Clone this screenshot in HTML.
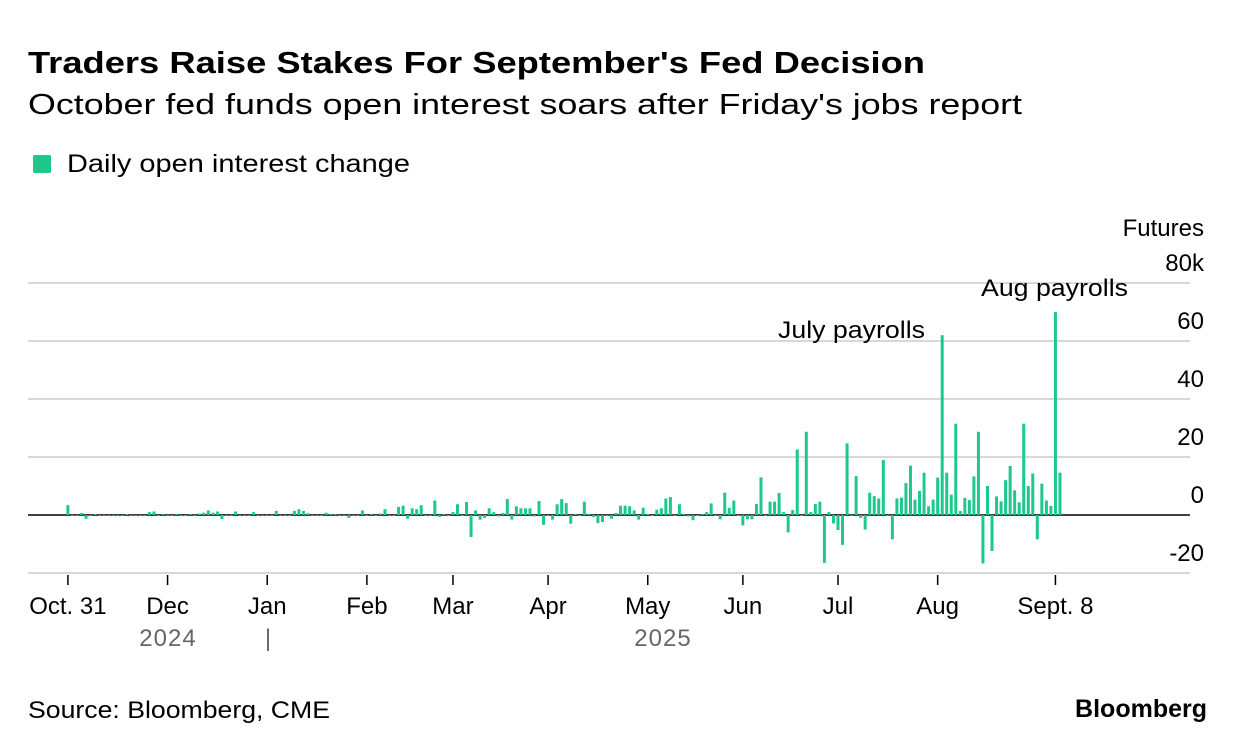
<!DOCTYPE html>
<html><head><meta charset="utf-8"><style>
body{margin:0;background:#fff;font-family:"Liberation Sans",sans-serif;}
svg text{font-family:"Liberation Sans",sans-serif;}
</style></head><body>
<svg width="1236" height="750" xmlns="http://www.w3.org/2000/svg">
<text x="28" y="73" font-size="31" font-weight="bold" fill="#000" textLength="897" lengthAdjust="spacingAndGlyphs">Traders Raise Stakes For September's Fed Decision</text>
<text x="28" y="114" font-size="29" fill="#000" textLength="994" lengthAdjust="spacingAndGlyphs">October fed funds open interest soars after Friday's jobs report</text>
<rect x="33" y="155" width="18" height="18" rx="2" fill="#1ec88a"/>
<text x="67" y="172" font-size="25" fill="#000" textLength="343" lengthAdjust="spacingAndGlyphs">Daily open interest change</text>
<g id="grid"></g>
<g id="bars"></g>
<g id="xaxis"></g>
<text x="1204" y="236" font-size="24" text-anchor="end">Futures</text>
<text x="925" y="338" font-size="24" text-anchor="end" textLength="147" lengthAdjust="spacingAndGlyphs">July payrolls</text>
<text x="1128" y="296" font-size="24" text-anchor="end" textLength="147" lengthAdjust="spacingAndGlyphs">Aug payrolls</text>
<text x="168" y="646" font-size="24" text-anchor="middle" fill="#666" letter-spacing="1">2024</text>
<text x="268" y="646" font-size="24" text-anchor="middle" fill="#666">|</text>
<text x="663" y="646" font-size="24" text-anchor="middle" fill="#666" letter-spacing="1">2025</text>
<text x="28" y="718" font-size="24" fill="#000" textLength="302" lengthAdjust="spacingAndGlyphs">Source: Bloomberg, CME</text>
<text x="1207" y="717" font-size="25" font-weight="bold" text-anchor="end" fill="#000">Bloomberg</text>
</svg>
<script>
const values = [
3.4,0,0,0.7,-1.3,0,0.2,0,0,0,0,0,0,0.2,0,0,0,0,1,1.2,0,0.3,0,0,0.4,0,0,0.2,0,0.5,0.8,1.6,0.8,1.2,-1.4,0,0,1.2,0,0,0,1,0,0,0,0,1.4,0,0,0,1.4,2,1.4,0.6,0,0,0,0.8,0.4,0.2,0,0,-1,0,0,1.6,0,0.2,0,0.5,
2,0,0,2.8,3.2,-1.3,2.3,2,3.4,0,0,5,-0.7,0.2,0,1,3.7,0,4.5,-7.6,1.6,-1.6,-1,2.3,1,-0.5,0.7,5.5,-1.6,3,2.3,2.3,2.3,-0.5,4.8,-3.4,0,-1.6,3.7,5.5,4.1,-3,0.2,0,4.6,0.3,-0.7,-2.8,-2.4,0,-1.3,0.7,3.2,3.2,3,1.6,-1.6,2.5,0.3,0,1.8,2.3,5.7,6.2,0,3.7,0.3,-0.5,-1.8,0,0.3,1,
4,0,-1.5,7.7,2.5,5,0,-3.6,-1.5,-1.5,3.8,13,0,4.6,4.6,7.6,1,-6,1.7,22.6,0,28.7,1,3.8,4.6,-16.5,1,-2.9,-5.2,-10.3,24.7,0,13.4,-1,-5,7.7,6.5,5.7,19,0,-8.4,5.7,
6,11,17,5.3,8.3,14.6,3,5.3,12.9,62,14.6,7,31.5,1.4,5.9,5.2,13.3,28.7,-16.7,10,-12.4,6.4,4.7,12,16.9,8.5,4.4,31.5,10,14.3,-8.4,10.8,5,3.1,70,14.6
];
const yTicks = [-20,0,20,40,60,80];
const yTickLabels = ["-20","0","20","40","60","80k"];
const monthLabels = ["Oct. 31","Dec","Jan","Feb","Mar","Apr","May","Jun","Jul","Aug","Sept. 8"];
const monthIndex = [0,22,44,66,85,106,128,149,170,192,218];
const NS="http://www.w3.org/2000/svg";
const y = v => 515 - v*2.9;
const x = i => 67.9 + i*4.53;
const grid=document.getElementById('grid'), bars=document.getElementById('bars'), xa=document.getElementById('xaxis');
yTicks.forEach((t,k)=>{
  const l=document.createElementNS(NS,'line');
  l.setAttribute('x1',28);l.setAttribute('x2',1190);l.setAttribute('y1',y(t));l.setAttribute('y2',y(t));
  l.setAttribute('stroke',t===0?'#000':'#ccc');l.setAttribute('stroke-width',1.5);
  
  
  grid.appendChild(l);
  const tx=document.createElementNS(NS,'text');
  tx.setAttribute('x',1204);tx.setAttribute('y',y(t)-12);tx.setAttribute('text-anchor','end');tx.setAttribute('font-size','24');
  tx.textContent=yTickLabels[k];
  
  
  grid.appendChild(tx);
});
values.forEach((v,i)=>{
  const r=document.createElementNS(NS,'rect');
  r.setAttribute('x',x(i)-1.5);r.setAttribute('width',3);
  r.setAttribute('y',Math.min(y(v),y(0)));r.setAttribute('height',Math.max(Math.abs(y(v)-y(0)),0.6));
  r.setAttribute('fill','#1ec88a');
  
  
  bars.appendChild(r);
});
monthLabels.forEach((m,k)=>{
  const px=x(monthIndex[k]);
  const l=document.createElementNS(NS,'line');
  l.setAttribute('x1',px);l.setAttribute('x2',px);l.setAttribute('y1',575);l.setAttribute('y2',585);
  l.setAttribute('stroke','#000');l.setAttribute('stroke-width',1.5);
  
  
  xa.appendChild(l);
  const tx=document.createElementNS(NS,'text');
  tx.setAttribute('x',px);tx.setAttribute('y',614);tx.setAttribute('text-anchor','middle');tx.setAttribute('font-size','24');
  tx.textContent=m;
  
  
  xa.appendChild(tx);
});
</script>
</body></html>
